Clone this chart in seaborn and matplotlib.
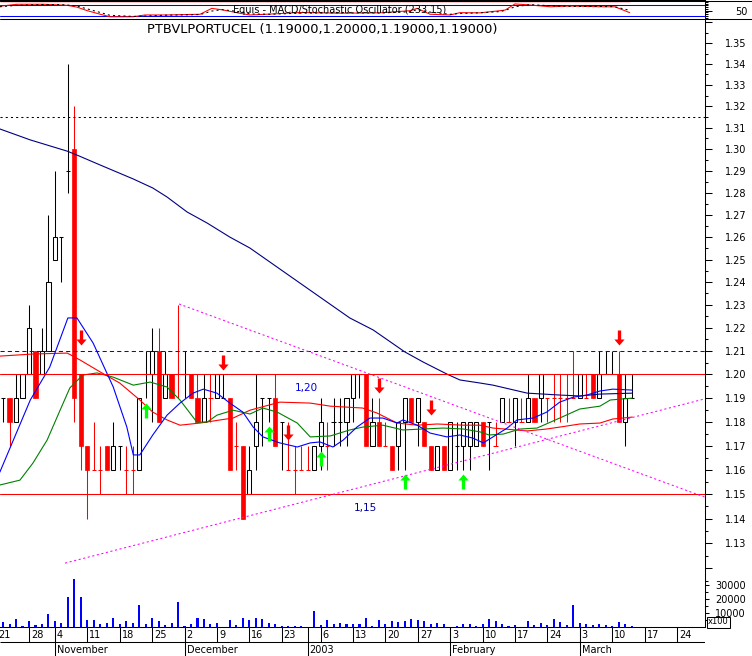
"""PTBVLPORTUCEL daily candles, Oct 2002 - Mar 2003, MetaStock style chart."""

import numpy as np
import matplotlib
matplotlib.use("Agg")
import matplotlib.pyplot as plt
from matplotlib.lines import Line2D
from matplotlib.path import Path
from matplotlib.ticker import FixedLocator, FixedFormatter, NullFormatter
from matplotlib.transforms import offset_copy
import seaborn as sns

# ---------------- data ----------------
# trading day index (0 = Mon 21 Oct 2002)
day = np.arange(1, 99)
opens = [1.19, 1.19, 1.18, 1.19, 1.20, 1.21, 1.20, 1.21, 1.25, 1.26,
         1.29, 1.30, 1.20, 1.17, 1.16, 1.16, 1.17, 1.16, 1.17, 1.16,
         1.16, 1.16, 1.20, 1.20, 1.21, 1.19, 1.20, 1.20, 1.20, 1.20,
         1.19, 1.18, 1.19, 1.19, 1.19, 1.19, 1.17, 1.17, 1.15, 1.17,
         1.19, 1.19, 1.19, 1.18, 1.16, 1.16, 1.16, 1.16, 1.16, 1.17,
         1.17, 1.18, 1.18, 1.18, 1.19, 1.20, 1.20, 1.17, 1.18, 1.17,
         1.17, 1.17, 1.18, 1.19, 1.18, 1.18, 1.17, 1.16, 1.17, 1.16,
         1.17, 1.17, 1.17, 1.17, 1.18, 1.18, 1.17, 1.18, 1.18, 1.18,
         1.18, 1.18, 1.19, 1.19, 1.19, 1.19, 1.19, 1.19, 1.19, 1.19,
         1.19, 1.20, 1.19, 1.20, 1.20, 1.20, 1.18, 1.19]
highs = [1.19, 1.19, 1.20, 1.20, 1.23, 1.21, 1.22, 1.27, 1.29, 1.26,
         1.34, 1.32, 1.20, 1.17, 1.18, 1.17, 1.17, 1.18, 1.17, 1.17,
         1.17, 1.19, 1.21, 1.22, 1.22, 1.21, 1.20, 1.23, 1.21, 1.20,
         1.20, 1.20, 1.20, 1.20, 1.20, 1.19, 1.18, 1.17, 1.17, 1.20,
         1.19, 1.19, 1.20, 1.18, 1.18, 1.17, 1.17, 1.17, 1.17, 1.19,
         1.18, 1.19, 1.19, 1.19, 1.20, 1.20, 1.20, 1.19, 1.19, 1.18,
         1.17, 1.18, 1.19, 1.19, 1.19, 1.18, 1.17, 1.17, 1.17, 1.18,
         1.18, 1.18, 1.18, 1.18, 1.18, 1.18, 1.18, 1.19, 1.19, 1.19,
         1.19, 1.20, 1.19, 1.20, 1.19, 1.20, 1.20, 1.20, 1.21, 1.20,
         1.20, 1.20, 1.21, 1.21, 1.21, 1.21, 1.20, 1.20]
lows = [1.18, 1.17, 1.18, 1.19, 1.20, 1.19, 1.20, 1.21, 1.25, 1.24,
        1.28, 1.18, 1.16, 1.14, 1.16, 1.15, 1.16, 1.16, 1.16, 1.15,
        1.15, 1.16, 1.19, 1.18, 1.18, 1.19, 1.19, 1.19, 1.19, 1.19,
        1.18, 1.18, 1.18, 1.19, 1.19, 1.16, 1.16, 1.14, 1.15, 1.16,
        1.17, 1.18, 1.17, 1.16, 1.16, 1.15, 1.16, 1.16, 1.16, 1.16,
        1.16, 1.17, 1.17, 1.17, 1.18, 1.19, 1.17, 1.17, 1.17, 1.17,
        1.16, 1.16, 1.16, 1.18, 1.17, 1.17, 1.16, 1.16, 1.16, 1.16,
        1.16, 1.16, 1.16, 1.17, 1.17, 1.16, 1.17, 1.18, 1.18, 1.17,
        1.18, 1.18, 1.18, 1.18, 1.18, 1.18, 1.18, 1.18, 1.19, 1.19,
        1.19, 1.19, 1.19, 1.20, 1.20, 1.18, 1.17, 1.19]
closes = [1.19, 1.18, 1.19, 1.20, 1.22, 1.19, 1.21, 1.24, 1.26, 1.26,
          1.29, 1.19, 1.17, 1.16, 1.16, 1.16, 1.16, 1.17, 1.17, 1.16,
          1.16, 1.19, 1.20, 1.21, 1.18, 1.20, 1.19, 1.20, 1.20, 1.19,
          1.18, 1.19, 1.19, 1.20, 1.19, 1.16, 1.17, 1.14, 1.16, 1.18,
          1.19, 1.19, 1.17, 1.18, 1.16, 1.16, 1.16, 1.16, 1.17, 1.18,
          1.17, 1.18, 1.18, 1.19, 1.20, 1.20, 1.17, 1.18, 1.17, 1.17,
          1.16, 1.18, 1.19, 1.18, 1.19, 1.17, 1.16, 1.17, 1.16, 1.18,
          1.17, 1.18, 1.18, 1.18, 1.17, 1.18, 1.17, 1.19, 1.18, 1.19,
          1.18, 1.19, 1.18, 1.20, 1.19, 1.19, 1.19, 1.19, 1.19, 1.20,
          1.19, 1.19, 1.20, 1.20, 1.20, 1.18, 1.19, 1.19]
# unchanged days that are drawn in red
red_doji = [15, 16, 20, 21, 28, 33, 37, 45, 46, 47, 48, 51, 60, 77, 79,
            81, 85, 86, 87, 88, 89, 91]
volume = [3600, 1900, 5500, 500, 4000, 1200, 1900, 9500, 4000, 2900,
          21400, 34000, 21400, 4800, 4800, 2400, 2900, 6700, 1900, 4000,
          2900, 15500, 2400, 6700, 4000, 1200, 2900, 17600, 700, 2400,
          6700, 6000, 1900, 2900, 300, 4800, 1200, 6700, 4800, 6700,
          5500, 3100, 1900, 1000, 500, 1000, 1000, 300, 11700, 1200,
          4800, 1900, 3100, 2400, 1900, 1900, 6700, 1000, 4800, 1900,
          4000, 3600, 4000, 5500, 4800, 4000, 1900, 2900, 1900, 300,
          700, 1900, 1900, 1000, 1900, 5500, 4000, 1900, 1000, 1200,
          300, 4000, 1700, 3100, 1200, 5500, 3600, 1200, 15500, 2900,
          1900, 1200, 1900, 1200, 700, 3600, 1900, 500]

# moving averages
ma_navy_x = [0.5, 5.2, 10.9, 12.4, 16.0, 21.1, 24.1, 26.3, 29.4, 32.5, 36.0,
             39.1, 46.8, 54.5, 58.1, 63.0, 65.8, 69.5, 71.5, 74.6, 76.6, 81.9,
             86.9, 90.0, 93.1, 98.1]
ma_navy = [1.3094, 1.3043, 1.2991, 1.2973, 1.2927, 1.2863, 1.2822, 1.2781,
           1.2713, 1.2663, 1.2600, 1.2551, 1.2396, 1.2243, 1.2191, 1.2096,
           1.2053, 1.2001, 1.1976, 1.1963, 1.1954, 1.1920, 1.1912, 1.1908,
           1.1916, 1.1920]
ma_blue_x = [0.5, 5.2, 8.2, 11.0, 12.4, 14.9, 18.0, 20.1, 21.1, 22.1,
             24.1, 26.3, 28.3, 30.3, 31.9, 34.0, 36.0, 38.0, 39.6, 41.1,
             43.7, 46.4, 48.4, 49.9, 51.9, 53.5, 55.6, 57.6, 59.6, 61.8,
             62.7, 64.9, 66.9, 69.5, 71.5, 73.5, 75.1, 76.6, 78.8, 80.3,
             82.8, 84.9, 86.9, 89.0, 91.1, 93.1, 95.1, 98.1]
ma_blue = [1.1590, 1.1891, 1.2031, 1.2243, 1.2243, 1.2134, 1.1946, 1.1777, 1.1661, 1.1661,
           1.1744, 1.1827, 1.1878, 1.1920, 1.1937, 1.1920, 1.1878, 1.1840, 1.1777, 1.1736,
           1.1711, 1.1694, 1.1711, 1.1715, 1.1694, 1.1723, 1.1777, 1.1815, 1.1815, 1.1794,
           1.1807, 1.1785, 1.1752, 1.1736, 1.1744, 1.1731, 1.1711, 1.1736, 1.1773, 1.1807,
           1.1815, 1.1840, 1.1882, 1.1903, 1.1912, 1.1929, 1.1937, 1.1933]
ma_green_x = [0.5, 3.6, 5.6, 7.8, 9.8, 11.3, 13.3, 15.5, 18.0, 21.1,
              23.7, 26.3, 28.3, 30.9, 32.5, 34.0, 36.5, 39.1, 41.1, 43.3,
              46.4, 48.4, 51.5, 54.5, 56.5, 59.6, 62.7, 65.8, 68.9, 72.0,
              74.6, 76.0, 78.2, 80.8, 83.4, 86.9, 90.0, 93.1, 94.7, 98.1]
ma_green = [1.1537, 1.1557, 1.1627, 1.1723, 1.1848, 1.1942, 1.1997, 1.2006, 1.1988, 1.1954,
            1.1967, 1.1946, 1.1891, 1.1798, 1.1798, 1.1827, 1.1848, 1.1832, 1.1857, 1.1840,
            1.1794, 1.1736, 1.1740, 1.1765, 1.1777, 1.1785, 1.1765, 1.1769, 1.1773, 1.1769,
            1.1757, 1.1744, 1.1748, 1.1769, 1.1773, 1.1815, 1.1853, 1.1865, 1.1891, 1.1899]
ma_red_x = [0.5, 5.6, 10.9, 12.9, 16.0, 19.0, 22.1, 24.1, 26.3, 28.3,
            31.4, 34.5, 36.5, 39.1, 43.7, 48.4, 51.5, 56.5, 58.7, 61.8,
            64.9, 68.0, 72.0, 74.6, 76.6, 81.9, 84.9, 86.9, 90.0, 93.1,
            95.1, 98.1]
ma_red = [1.2078, 1.2087, 1.2091, 1.2061, 1.2010, 1.1963, 1.1891, 1.1840, 1.1807, 1.1785,
          1.1794, 1.1807, 1.1815, 1.1848, 1.1882, 1.1878, 1.1865, 1.1857, 1.1836, 1.1794,
          1.1785, 1.1790, 1.1785, 1.1785, 1.1773, 1.1761, 1.1769, 1.1777, 1.1790, 1.1794,
          1.1811, 1.1819]

# stochastic strip
osc_x = [0.5, 3.1, 7.2, 9.8, 10.9, 12.4, 14.0, 16.0, 17.5, 21.1, 22.9, 26.3,
         31.4, 33.2, 34.8, 37.6, 39.1, 42.2, 46.8, 53.0, 59.2, 63.8, 64.9,
         66.9, 70.0, 71.5, 74.6, 77.7, 78.5, 80.0, 82.3, 85.4, 88.5, 93.1,
         95.4, 97.7]
osc_k = [75, 86, 86, 82, 80, 70, 50, 30, 16, 16, 26, 26, 30, 63, 55, 35, 26,
         31, 40, 36, 38, 50, 63, 30, 26, 39, 38, 50, 54, 88, 82, 72, 76, 72,
         72, 39]
osc_d = [72, 80, 85, 84, 82, 76, 60, 40, 24, 18, 20, 25, 28, 48, 56, 44, 32,
         30, 36, 38, 37, 44, 56, 42, 30, 34, 38, 45, 52, 72, 84, 78, 74, 74,
         72, 52]
osc_title = "Equis - MACD/Stochastic Oscillator (233.15)"

# signals: (day, arrow tip price)
sell_days = [13, 35, 45, 59, 67, 96]
sell_tips = [1.2125, 1.2018, 1.1723, 1.1920, 1.1827, 1.2125]
buy_days = [23, 42, 50, 63, 72]
buy_tips = [1.1878, 1.1781, 1.1677, 1.1582, 1.1582]

# trend lines (day, price) and levels
trend_down = ([28.15, 109.32], [1.2304, 1.1487])
trend_up = ([10.56, 109.32], [1.1221, 1.1896])
levels_red = [1.20, 1.15]
level_blue = 1.21
level_black = 1.315

week_ticks = [0, 5, 9, 14, 19, 24, 29, 34, 39, 44, 50, 55, 60, 65, 70, 75,
              80, 85, 90, 95, 100, 105]
week_labels = ["21", "28", "4", "11", "18", "25", "2", "9", "16", "23", "6",
               "13", "20", "27", "3", "10", "17", "24", "3", "10", "17", "24"]
month_ticks = [9, 29, 48, 70, 90]
month_labels = ["November", "December", "2003", "February", "March"]

price_major = [round(1.12 + 0.01 * k, 2) for k in range(25)]
price_labels = ["" if p in (1.12, 1.36) else f"{p:.2f}" for p in price_major]
price_minor = [round(1.115 + 0.01 * k, 3) for k in range(25)]

title = "PTBVLPORTUCEL (1.19000,1.20000,1.19000,1.19000)"

# ---------------- figure ----------------
sns.set_theme(style="white")
plt.rcParams["font.family"] = ["DejaVu Sans"]
plt.rcParams["axes.linewidth"] = 0.75

W, H = 752, 656
fig = plt.figure(figsize=(W / 100, H / 100), dpi=100)
fig.patch.set_facecolor("white")


def box(x0, y0, x1, y1):
    return [x0 / W, 1 - y1 / H, (x1 - x0) / W, (y1 - y0) / H]


XMIN, XMAX = 0.525, 109.32
AXR = 705
LW = 0.75

ax = fig.add_axes(box(0, 19, AXR, 627))
ax_osc = fig.add_axes(box(0, 0, AXR, 19))
ax_vol = fig.add_axes(box(0, 557, AXR, 627))
ax_dt = fig.add_axes(box(0, 627, AXR, 656))
for a in (ax, ax_osc, ax_vol, ax_dt):
    a.set_xlim(XMIN, XMAX)
    a.set_xticks([])
    a.grid(False)

# ---- price panel ----
ax.set_yscale("log")
ax.set_ylim(1.0969, 1.3616)
for s in ("left", "top"):
    ax.spines[s].set_visible(False)
for s in ("right", "bottom"):
    ax.spines[s].set_color("black")
    ax.spines[s].set_linewidth(LW)
ax.yaxis.tick_right()
ax.yaxis.set_major_locator(FixedLocator(price_major))
ax.yaxis.set_major_formatter(FixedFormatter(price_labels))
ax.yaxis.set_minor_locator(FixedLocator(price_minor))
ax.yaxis.set_minor_formatter(NullFormatter())
ax.tick_params(axis="y", which="major", direction="out", length=5, width=LW,
               color="black", labelsize=7, labelcolor="black", pad=9.4)
ax.tick_params(axis="y", which="minor", direction="out", length=2.5, width=LW,
               color="black")

o = np.array(opens)
h = np.array(highs)
l = np.array(lows)
c = np.array(closes)
up = c > o
dn = c < o
eq = c == o
BODY_W = 0.64

ax.vlines(day[up], l[up], h[up], color="black", lw=LW, zorder=2)
ax.bar(day[up], (c - o)[up], bottom=o[up], width=BODY_W, facecolor="white",
       edgecolor="black", linewidth=LW, zorder=3)
ax.vlines(day[dn], l[dn], h[dn], color="red", lw=LW, zorder=2)
ax.bar(day[dn], (o - c)[dn], bottom=c[dn], width=BODY_W, facecolor="red",
       edgecolor="red", linewidth=0.5, zorder=3)
doji_cols = ["red" if d in red_doji else "black" for d in day[eq]]
ax.vlines(day[eq], l[eq], h[eq], colors=doji_cols, lw=LW, zorder=2)
ax.hlines(o[eq], day[eq] - 0.32, day[eq] + 0.32, colors=doji_cols, lw=LW, zorder=3)

# moving averages
sns.lineplot(x=ma_navy_x, y=ma_navy, ax=ax, color="#000080", lw=0.8, zorder=4)
sns.lineplot(x=ma_red_x, y=ma_red, ax=ax, color="#ff0000", lw=0.8, zorder=4)
sns.lineplot(x=ma_green_x, y=ma_green, ax=ax, color="#008000", lw=0.8, zorder=4)
sns.lineplot(x=ma_blue_x, y=ma_blue, ax=ax, color="#0000ff", lw=0.8, zorder=4)

# levels and trend lines
for lv in levels_red:
    ax.axhline(lv, color="red", lw=LW, zorder=5)
ax.axhline(level_blue, color="#0000ff", lw=LW, ls=(0, (4, 3)), zorder=5)
ax.axhline(level_black, color="black", lw=LW, ls=(0, (2, 3)), zorder=5)
ax.plot(*trend_down, color="#ff00ff", lw=LW, ls=(0, (2, 2.5)), zorder=5)
ax.plot(*trend_up, color="#ff00ff", lw=LW, ls=(0, (2, 2.5)), zorder=5)

# signal arrows (tip of the path at the origin)
down_arrow = Path([(0, 0), (-0.34, 0.4), (-0.11, 0.4), (-0.11, 1.0),
                   (0.11, 1.0), (0.11, 0.4), (0.34, 0.4), (0, 0)],
                  [Path.MOVETO] + [Path.LINETO] * 6 + [Path.CLOSEPOLY])
up_arrow = Path([(0, 0), (-0.34, -0.4), (-0.11, -0.4), (-0.11, -1.0),
                 (0.11, -1.0), (0.11, -0.4), (0.34, -0.4), (0, 0)],
                [Path.MOVETO] + [Path.LINETO] * 6 + [Path.CLOSEPOLY])
ax.plot(sell_days, sell_tips, ls="none", marker=down_arrow, markersize=21.6,
        markerfacecolor="#ff0000", markeredgewidth=0, zorder=6)
ax.plot(buy_days, buy_tips, ls="none", marker=up_arrow, markersize=21.6,
        markerfacecolor="#00ff00", markeredgewidth=0, zorder=6)

fig.text(306 / W, 1 - 388 / H, "1,20", color="#0000e0", fontsize=7.5,
         ha="center", va="center")
fig.text(365 / W, 1 - 508 / H, "1,15", color="#00009a", fontsize=7.5,
         ha="center", va="center")
fig.text(322 / W, 1 - 29 / H, title, color="black", fontsize=9.4,
         ha="center", va="center")

# ---- volume ----
ax_vol.patch.set_alpha(0)
ax_vol.set_zorder(ax.get_zorder() + 1)
for s in ax_vol.spines.values():
    s.set_visible(False)
ax_vol.set_ylim(0, 50000)
ax_vol.bar(day, volume, width=0.32, color="#0000ff", linewidth=0)
ax_vol.yaxis.tick_right()
ax_vol.set_yticks([10000, 20000, 30000])
ax_vol.set_yticklabels(["10000", "20000", "30000"])
ax_vol.yaxis.set_minor_locator(FixedLocator([5000, 15000, 25000]))
ax_vol.tick_params(axis="y", which="major", direction="out", length=2.9,
                   width=LW, color="black", labelsize=7, labelcolor="black", pad=4.3)
ax_vol.tick_params(axis="y", which="minor", direction="out", length=1.8,
                   width=LW, color="black")
fig.text(708 / W, 1 - 622 / H, "x100", fontsize=6, color="black", va="center",
         bbox=dict(boxstyle="square,pad=0.12", fc="white", ec="black", lw=LW))

# ---- stochastic strip ----
ax_osc.set_ylim(3.4, 110)
for s in ("left", "bottom"):
    ax_osc.spines[s].set_visible(False)
for s in ("right", "top"):
    ax_osc.spines[s].set_color("black")
    ax_osc.spines[s].set_linewidth(LW)
ax_osc.yaxis.tick_right()
ax_osc.set_yticks([50])
ax_osc.set_yticklabels(["50"])
ax_osc.yaxis.set_minor_locator(FixedLocator([10, 20, 30, 40, 60, 70, 80, 90, 100]))
ax_osc.tick_params(axis="y", which="major", direction="out", length=5, width=LW,
                   color="black", labelsize=7, labelcolor="black", pad=16.6)
ax_osc.tick_params(axis="y", which="minor", direction="out", length=2.5,
                   width=LW, color="black")
ax_osc.axhline(80, color="#0000ff", lw=LW)
ax_osc.axhline(20, color="#0000ff", lw=LW)
ax_osc.hlines(103, 0.5, 97.7, color="red", lw=1.0)
sns.lineplot(x=osc_x, y=osc_k, ax=ax_osc, color="red", lw=LW)
sns.lineplot(x=osc_x, y=osc_d, ax=ax_osc, color="black", lw=LW, ls=(0, (2, 3)))
fig.text(233 / W, 1 - 10 / H, osc_title, fontsize=7, color="black", va="center")

fig.add_artist(Line2D([0, 1], [1 - 19 / H, 1 - 19 / H], transform=fig.transFigure,
                      color="black", lw=LW))
fig.add_artist(Line2D([0, 1], [1 - 0.5 / H, 1 - 0.5 / H], transform=fig.transFigure,
                      color="black", lw=LW))

# ---- date axis ----
ax_dt.set_ylim(656, 627)
ax_dt.axis("off")
ax_dt.vlines(week_ticks, 627, 642, color="black", lw=LW)
ax_dt.vlines(month_ticks, 627, 656, color="black", lw=LW)
ax_dt.hlines(642, XMIN, XMAX, color="black", lw=LW)
lab_tr = offset_copy(ax_dt.transData, fig=fig, x=2, y=0, units="dots")
for t, s in zip(week_ticks, week_labels):
    ax_dt.text(t, 634.5, s, transform=lab_tr, fontsize=7, color="black",
               va="center", ha="left", clip_on=False)
for t, s in zip(month_ticks, month_labels):
    ax_dt.text(t, 650, s, transform=lab_tr, fontsize=7, color="black",
               va="center", ha="left", clip_on=False)

for a in (ax, ax_vol, ax_osc):
    a.set_xlabel("")
    a.set_ylabel("")
    a.set_xlim(XMIN, XMAX)

fig.savefig("out.png", dpi=100)
